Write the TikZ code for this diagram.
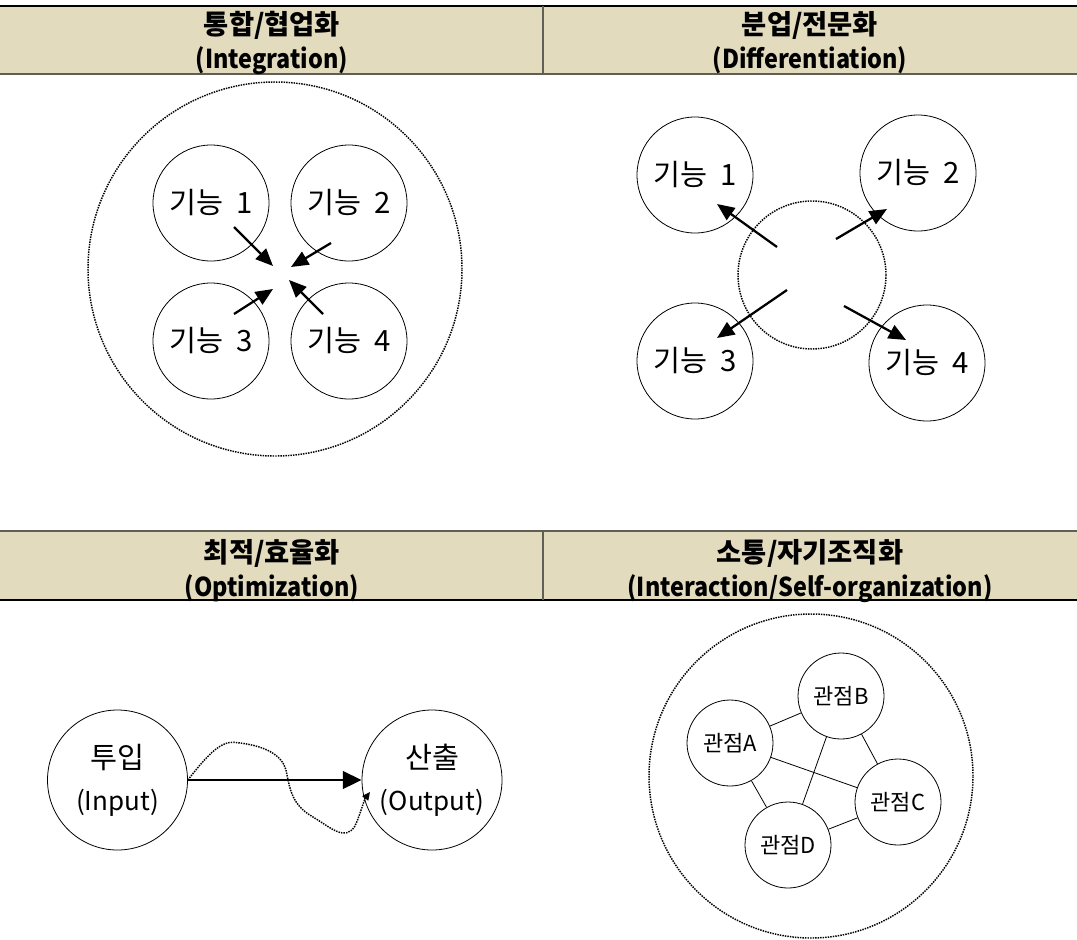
\documentclass[tikz,border=0pt]{standalone}
\usepackage{fontspec}
\setmainfont[WordSpace=2]{Noto Sans CJK KR}
\usepackage{tikz}
\usetikzlibrary{arrows.meta}
\definecolor{headfill}{RGB}{226,219,190}
\definecolor{headline}{RGB}{95,95,85}

\begin{document}
\begin{tikzpicture}[x=0.75pt,y=-0.75pt,
  func/.style={draw,circle,line width=0.6pt,minimum size=87pt,inner sep=0pt,font=\fontsize{22}{26}\selectfont},
  port/.style={draw,circle,line width=0.6pt,minimum size=105pt,inner sep=0pt,align=center,font=\fontsize{22}{31.5}\selectfont},
  view/.style={draw,circle,line width=0.6pt,minimum size=64.5pt,inner sep=0pt,font=\fontsize{16.5}{19}\selectfont},
  ring/.style={draw,circle,inner sep=0pt,line width=1.1pt,dash pattern=on 1.1pt off 0.8pt},
  flow/.style={-{Triangle[length=13pt,width=11pt]},line width=1.7pt},
  head/.style={align=center,font=\bfseries\fontsize{20.5}{25.5}\selectfont}]
\useasboundingbox (0,0) rectangle (1077,939);

\fill[headfill] (0,6) rectangle (1077,74);
\draw[line width=1.2pt] (0,6) -- (1077,6);
\draw[headline,line width=1.4pt] (0,74) -- (1077,74);
\draw[headline,line width=1.4pt] (543,6) -- (543,74);
\node[head] (integ) at (272,43) {통합/협업화\\{\fontsize{19.5}{25.5}\selectfont\scalebox{0.9}[1]{(Integration)}}};
\node[head] (diff) at (810,43) {분업/전문화\\{\fontsize{19.5}{25.5}\selectfont\scalebox{0.9}[1]{(Differentiation)}}};

\fill[headfill] (0,531) rectangle (1077,600);
\draw[headline,line width=1.2pt] (0,531) -- (1077,531);
\draw[line width=1.4pt] (0,600) -- (1077,600);
\draw[headline,line width=1.4pt] (543,531) -- (543,600);
\node[head] (optim) at (272,571) {최적/효율화\\{\fontsize{19.5}{25.5}\selectfont\scalebox{0.9}[1]{(Optimization)}}};
\node[head] (inter) at (810,571) {소통/자기조직화\\{\fontsize{19.5}{25.5}\selectfont\scalebox{0.9}[1]{(Interaction/Self-organization)}}};

\node[ring,minimum size=280.5pt] (pool) at (275,269) {};
\node[func] (f1) at (211,203) {기능 1};
\node[func] (f2) at (349,203) {기능 2};
\node[func] (f3) at (211,341) {기능 3};
\node[func] (f4) at (349,341) {기능 4};
\coordinate (t1) at (234,227);
\coordinate (t2) at (331,243);
\coordinate (t3) at (234,314);
\coordinate (t4) at (323,314);
\coordinate (h1) at (273,266);
\coordinate (h2) at (291,267);
\coordinate (h3) at (273,289);
\coordinate (h4) at (289,280);
\draw[flow] (t1) -- (h1);
\draw[flow] (t2) -- (h2);
\draw[flow] (t3) -- (h3);
\draw[flow] (t4) -- (h4);

\node[ring,minimum size=111pt] (core) at (812,275) {};
\node[func] (g1) at (695,175) {기능 1};
\node[func] (g2) at (918,173) {기능 2};
\node[func] (g3) at (695,361) {기능 3};
\node[func] (g4) at (927,363) {기능 4};
\coordinate (s1) at (777,247);
\coordinate (s2) at (836,239);
\coordinate (s3) at (787,290);
\coordinate (s4) at (844,306);
\coordinate (e1) at (717,204);
\coordinate (e2) at (887,209);
\coordinate (e3) at (717,338);
\coordinate (e4) at (906,340);
\draw[flow] (s1) -- (e1);
\draw[flow] (s2) -- (e2);
\draw[flow] (s3) -- (e3);
\draw[flow] (s4) -- (e4);

\node[port] (input) at (117.5,780) {투입\\{\fontsize{19.5}{31.5}\selectfont(Input)}};
\node[port] (output) at (432,780) {산출\\{\fontsize{19.5}{31.5}\selectfont(Output)}};
\coordinate (o1) at (370,792);
\draw[-{Triangle[length=14pt,width=13pt]},line width=2.2pt] (input.east) -- (output.west);
\draw[ring,-{Triangle[length=6pt,width=5.5pt]}] (input.east) .. controls (215,745) and (225,740) .. (240,743)
  .. controls (265,746) and (282,755) .. (286,770) .. controls (290,790) and (292,805) .. (313,817)
  .. controls (330,827) and (345,842) .. (355,826) .. controls (360,815) and (364,800) .. (o1);

\node[ring,minimum size=243pt] (forum) at (811,776) {};
\node[view] (va) at (730,743) {관점A};
\node[view] (vb) at (841,696) {관점B};
\node[view] (vc) at (898,802) {관점C};
\node[view] (vd) at (788,845) {관점D};
\draw[line width=0.6pt] (va) -- (vb);
\draw[line width=0.6pt] (va) -- (vc);
\draw[line width=0.6pt] (va) -- (vd);
\draw[line width=0.6pt] (vb) -- (vc);
\draw[line width=0.6pt] (vb) -- (vd);
\draw[line width=0.6pt] (vd) -- (vc);
\end{tikzpicture}
\end{document}
